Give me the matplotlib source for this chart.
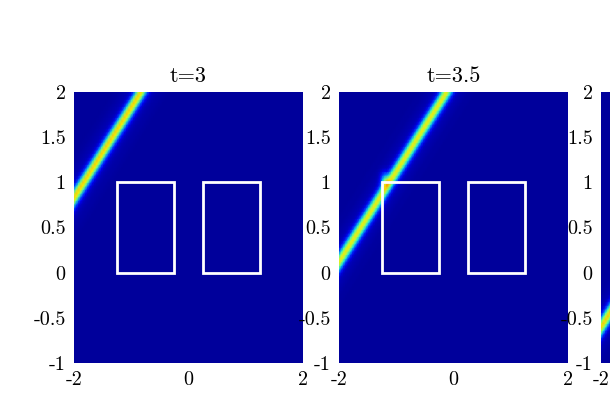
import numpy as np
import matplotlib
matplotlib.use('Agg')
import matplotlib.pyplot as plt
from matplotlib.patches import Rectangle

plt.rcParams['font.family'] = ['cmr10', 'DejaVu Serif']
plt.rcParams['axes.unicode_minus'] = False

# snapshot times and the ridge (wave front) seen in each panel
times = ['3', '3.5', '4']
front_offset = [2.83, 2.12, 1.40]      # ridge follows y = x + offset
front_peak = [0.64, 0.60, 0.64]
front_sigma = 0.048
# bright spot where the front touches the left box (t=3.5)
spot_x = [None, -1.2, None]
spot_y = [None, 1.03, None]
spot_peak = [0.0, 0.28, 0.0]
background = 0.025

# the two white boxes: (x0, y0, width, height)
boxes = [(-1.25, 0.0, 1.0, 1.0), (0.25, 0.0, 1.0, 1.0)]

xticks = [-2, 0, 2]
xticklabels = ['-2', '0', '2']
yticks = [-1, -0.5, 0, 0.5, 1, 1.5, 2]
yticklabels = ['-1', '-0.5', '0', '0.5', '1', '1.5', '2']

x = np.linspace(-2, 2, 101)
y = np.linspace(-1, 2, 76)
X, Y = np.meshgrid(x, y)

fig = plt.figure(figsize=(6.1, 4.2), dpi=100)
lefts = [74 / 610, 339 / 610, 601 / 610]

for i, t in enumerate(times):
    ax = fig.add_axes([lefts[i], 57 / 420, 229 / 610, 271 / 420])
    d = (Y - X - front_offset[i]) / np.sqrt(2)
    Z = background + front_peak[i] * np.exp(-d**2 / (2 * front_sigma**2))
    Z += 0.04 * np.exp(-d**2 / (2 * (3 * front_sigma)**2))
    if spot_x[i] is not None:
        r2 = (X - spot_x[i])**2 + (Y - spot_y[i])**2
        Z += spot_peak[i] * np.exp(-r2 / (2 * 0.05**2))
    ax.pcolormesh(X, Y, Z, cmap='jet', vmin=0, vmax=1, shading='gouraud')
    for (bx, by, bw, bh) in boxes:
        ax.add_patch(Rectangle((bx, by), bw, bh, fill=False,
                               edgecolor='white', linewidth=2))
    ax.set_xlim(-2, 2)
    ax.set_ylim(-1, 2)
    ax.set_xticks(xticks)
    ax.set_xticklabels(xticklabels)
    ax.set_yticks(yticks)
    ax.set_yticklabels(yticklabels)
    ax.tick_params(length=0, labelsize=14.5, pad=6)
    for s in ax.spines.values():
        s.set_visible(False)
    ax.set_title('t=' + t, fontsize=16, pad=7)

fig.savefig('out.png', dpi=100)
